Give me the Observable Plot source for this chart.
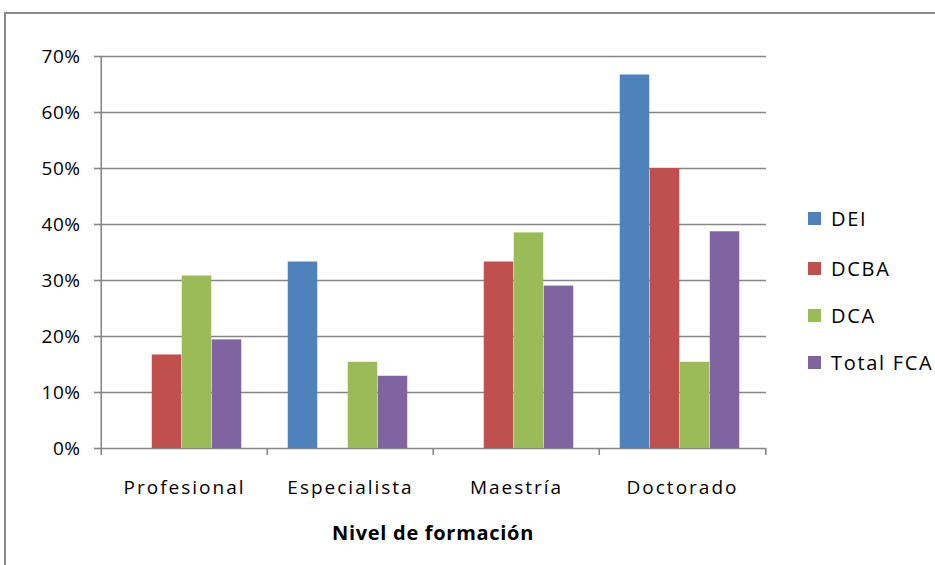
<!DOCTYPE html>
<html><head><meta charset="utf-8">
<script src="https://cdn.jsdelivr.net/npm/d3@7"></script>
<script src="https://cdn.jsdelivr.net/npm/@observablehq/plot@0.6"></script>
<style>
body{margin:0;background:#fff;}
#wrap{position:relative;width:935px;height:565px;overflow:hidden;font-family:"Open Sans",sans-serif;}
#frame{position:absolute;left:4px;top:12px;width:1000px;height:1000px;border-left:2px solid #8a8a8a;border-top:2px solid #8a8a8a;}
#chart{position:absolute;left:0;top:0;}
.leg{position:absolute;left:808px;font-size:20px;letter-spacing:1.7px;color:#000;display:flex;align-items:center;height:26px;white-space:nowrap;}
.leg span.sw{display:inline-block;width:13px;height:13px;margin-right:10px;}
#xtitle{position:absolute;left:0;width:866px;text-align:center;top:519px;font-size:20px;font-weight:bold;letter-spacing:0.7px;}
</style></head>
<body>
<div id="wrap"><div id="frame"></div><div id="chart"></div><div id="xtitle">Nivel de formación</div></div>
<script>
const categories = ["Profesional", "Especialista", "Maestría", "Doctorado"];
const series = ["DEI", "DCBA", "DCA", "Total FCA"];
const DEI = [0, 0.333, 0, 0.667];
const DCBA = [0.167, 0, 0.333, 0.5];
const DCA = [0.308, 0.154, 0.385, 0.154];
const TotalFCA = [0.194, 0.129, 0.29, 0.387];
const colors = ["#4F81BD", "#C0504D", "#9BBB59", "#8064A2"];
const yTicks = [0, 0.1, 0.2, 0.3, 0.4, 0.5, 0.6, 0.7];
const xLabel = "Nivel de formación";

const values = [DEI, DCBA, DCA, TotalFCA];
const data = [];
series.forEach((s, si) => categories.forEach((c, ci) => data.push({cat: c, series: s, si, value: values[si][ci]})));

const width = 935, height = 565;
const mL = 100, mR = 169, mT = 56, mB = 117;
const step = (width - mL - mR) / categories.length;
const bw = 30;
const pad = (step - bw * series.length) / 2 - 2.5;
const grey = "#868686";

const barMarks = series.map((s, si) => Plot.barY(data.filter(d => d.si === si), {
  x: "cat", y: "value", fill: colors[si],
  insetLeft: pad + bw * si, insetRight: step - pad - bw * (si + 1)
}));

const chart = Plot.plot({
  width, height,
  marginLeft: mL, marginRight: mR, marginTop: mT, marginBottom: mB,
  style: {fontFamily: "'Open Sans', sans-serif", fontSize: "19px", color: "#000", background: "transparent", overflow: "visible"},
  x: {domain: categories, padding: 0},
  y: {domain: [0, 0.7]},
  marks: [
    Plot.gridY(yTicks, {stroke: grey, strokeOpacity: 1, strokeWidth: 1.6}),
    ...barMarks,
    Plot.ruleX([categories[0]], {dx: -step / 2, y1: 0, y2: 0.7, stroke: grey, strokeWidth: 1.6}),
    Plot.axisY({ticks: yTicks, tickFormat: d3.format(".0%"), tickSize: 6, tickPadding: 14, stroke: grey, strokeWidth: 1.6, fontSize: 19, label: null}),
    Plot.axisX({tickSize: 0, tickPadding: 32, fontSize: 19, label: null}),
    Plot.axisX({ticks: categories, tickSize: 7, text: null, dx: -step / 2, stroke: grey, strokeWidth: 1.6, label: null}),
    Plot.axisX({ticks: [categories[categories.length - 1]], tickSize: 7, text: null, dx: step / 2, stroke: grey, strokeWidth: 1.6, label: null})
  ]
});
d3.select(chart).selectAll("[aria-label='y-axis tick label'] text").style("letter-spacing", "0.5px");
d3.select(chart).selectAll("[aria-label='x-axis tick label'] text").style("letter-spacing", "2px");
document.getElementById("chart").appendChild(chart);

const wrap = document.getElementById("wrap");
const legTops = [205, 255, 302, 349];
series.forEach((s, i) => {
  const div = document.createElement("div");
  div.className = "leg";
  div.style.top = legTops[i] + "px";
  div.innerHTML = `<span class="sw" style="background:${colors[i]}"></span>${s}`;
  wrap.appendChild(div);
});
</script>
</body></html>
